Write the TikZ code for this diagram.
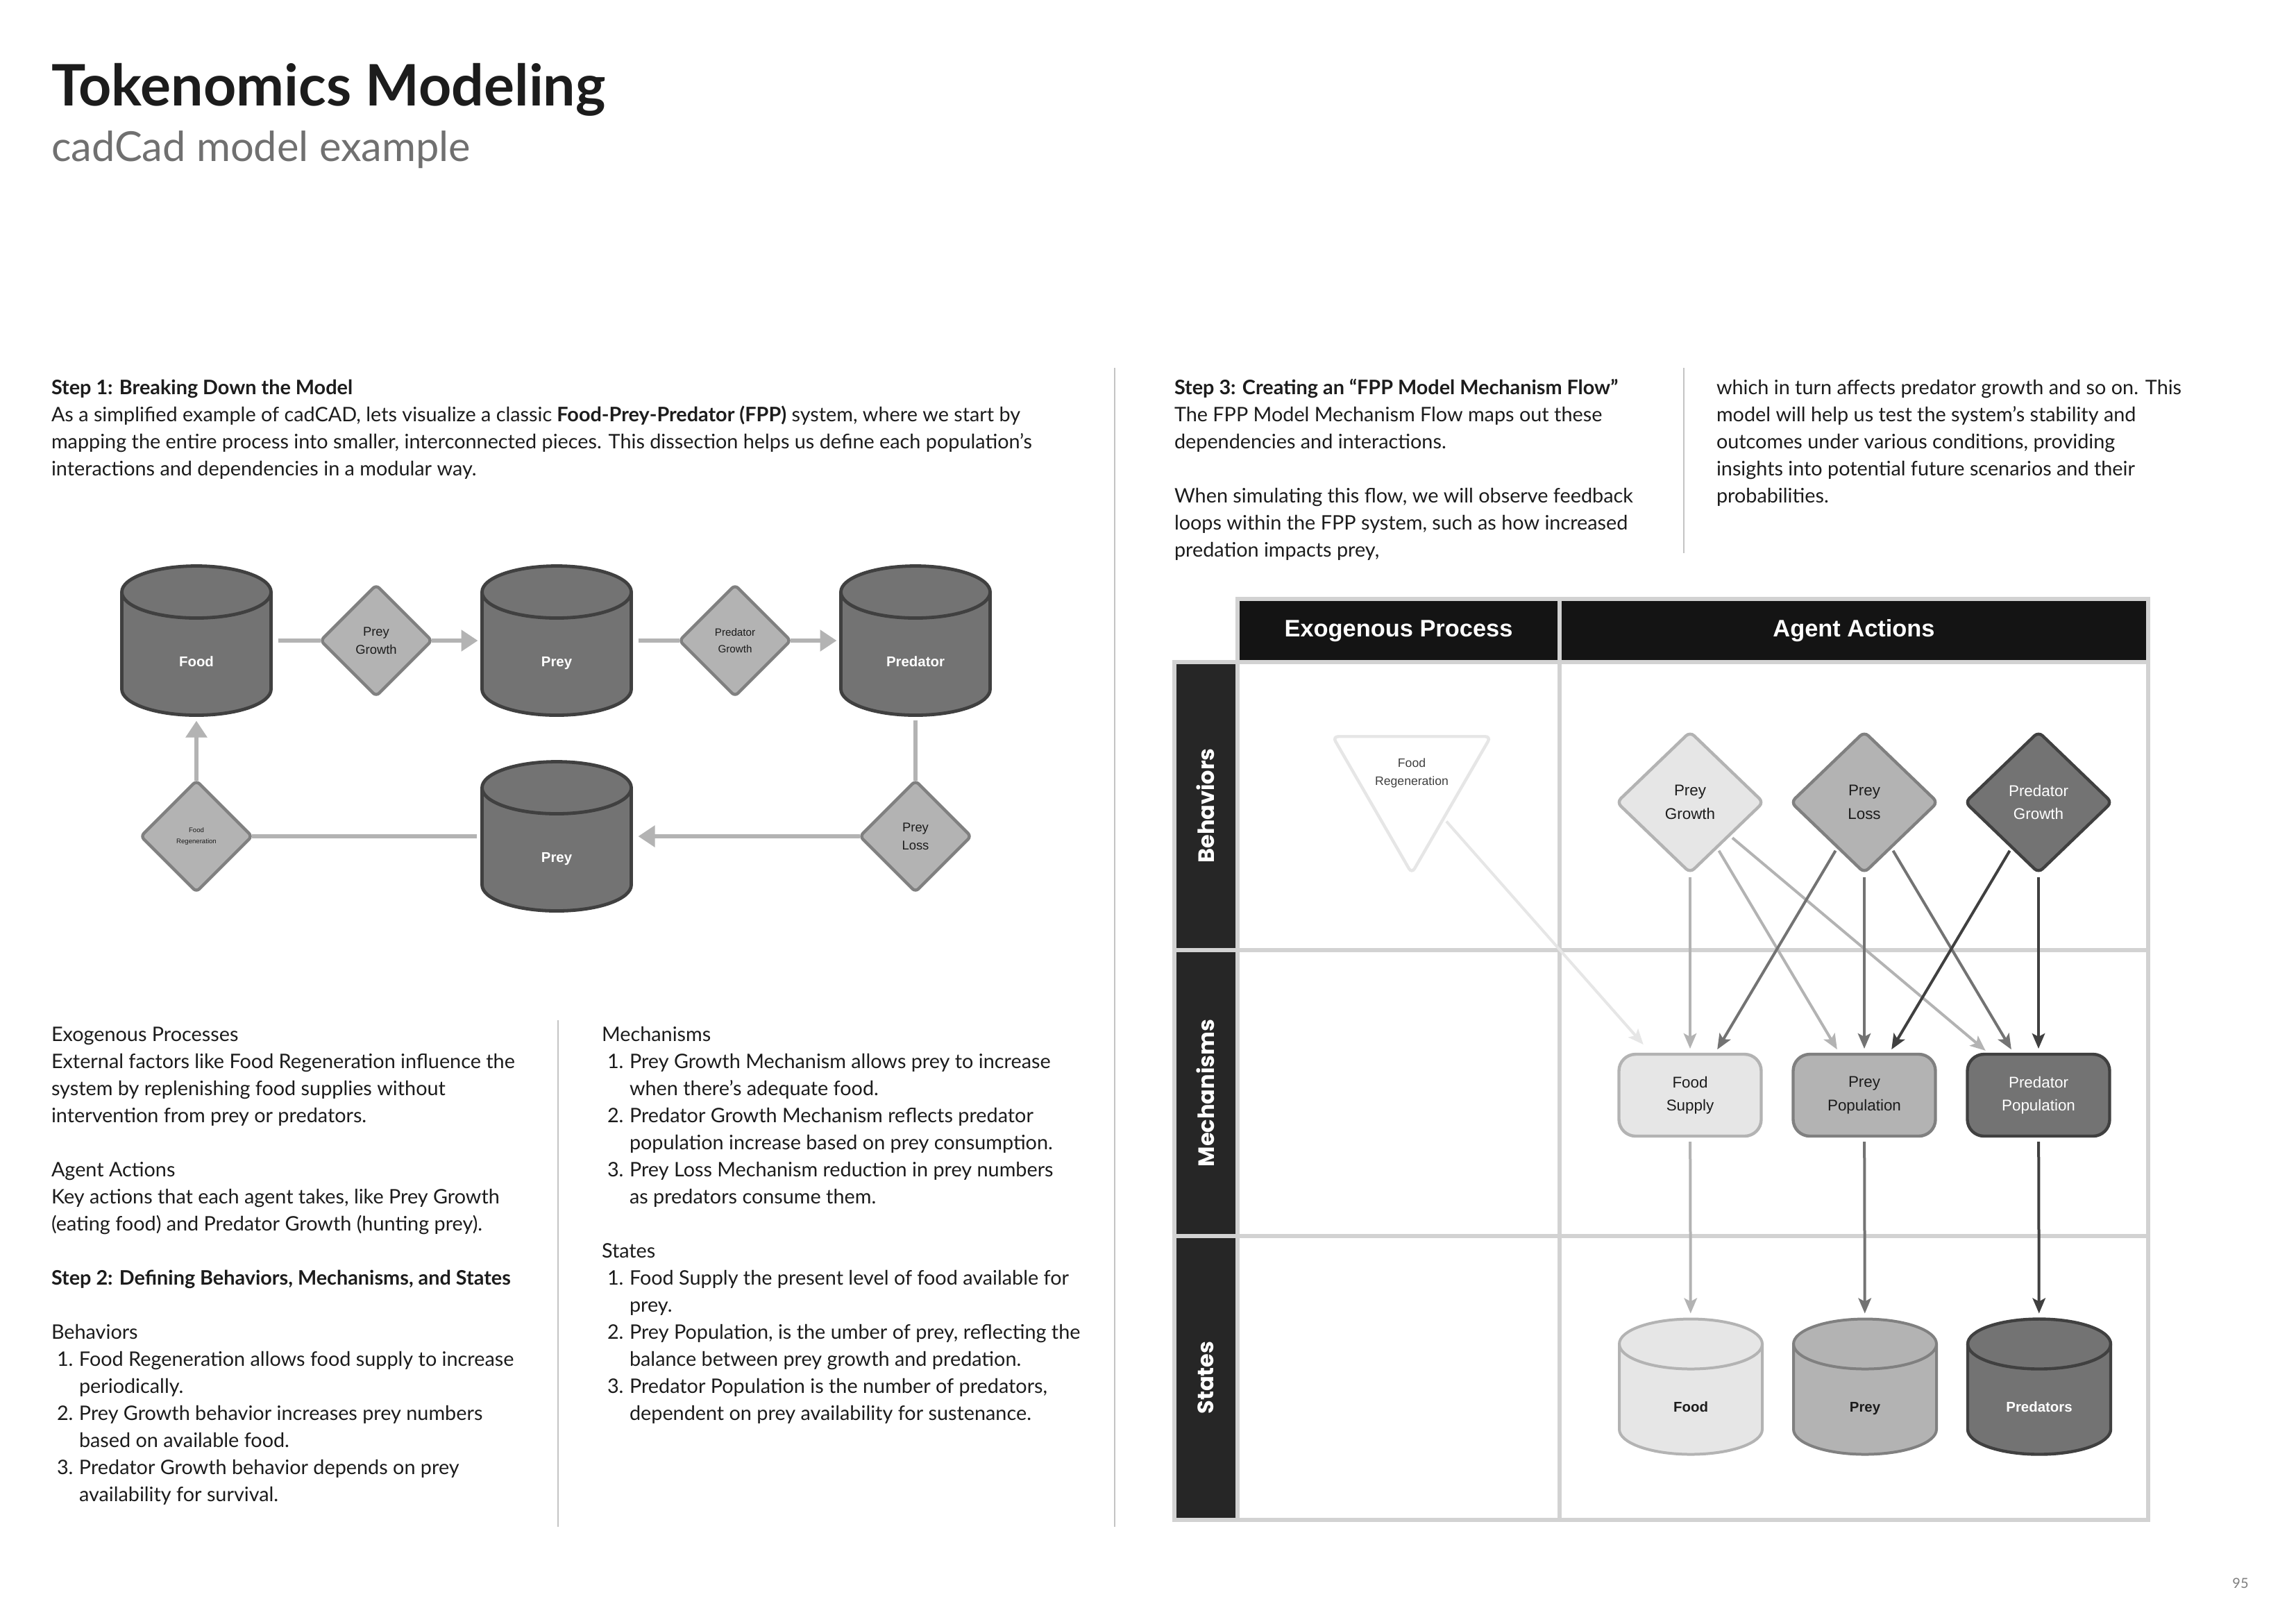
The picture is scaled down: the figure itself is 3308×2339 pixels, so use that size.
\documentclass[tikz,border=0pt]{standalone}
\usepackage{fontspec}
\setmainfont{Lato}
\newfontfamily\dfont{Liberation Sans}
\newfontfamily\rfont{Poppins}
\usetikzlibrary{shapes.geometric,arrows.meta,calc}
\definecolor{cA}{HTML}{E6E6E6}
\definecolor{cB}{HTML}{B3B3B3}
\definecolor{cC}{HTML}{808080}
\definecolor{cD}{HTML}{737373}
\definecolor{cE}{HTML}{404040}
\definecolor{ink}{HTML}{1C1C1C}
\definecolor{gridc}{HTML}{D2D2D2}
\definecolor{hdr}{HTML}{141414}
\definecolor{lbl}{HTML}{262626}
\definecolor{rulec}{HTML}{C4C4C4}
\definecolor{subc}{HTML}{707070}
\newcommand{\bodyfont}{\fontsize{7.2}{9.75}\selectfont}
\newcommand{\itm}[1]{\hspace*{2pt}\makebox[8pt][l]{#1}}
\newcommand{\cnt}{\hspace*{10pt}}
% cylinder drawn on a named rectangle node: #1 style, #2 node, #3 ry (units), #4 rx, #5 ry
\newcommand{\drawcyl}[5]{%
  \draw[#1] ($(#2.north west)+(0,#3)$) -- ($(#2.south west)+(0,-#3)$)
    arc[start angle=180,end angle=360,x radius=#4,y radius=#5]
    -- ($(#2.north east)+(0,#3)$)
    arc[start angle=0,end angle=180,x radius=#4,y radius=#5] -- cycle;
  \draw[#1,fill=none] ($(#2.north west)+(0,#3)$)
    arc[start angle=180,end angle=360,x radius=#4,y radius=#5];}
\begin{document}
\begin{tikzpicture}[x=0.25pt,y=-0.25pt,
  every node/.style={inner sep=0pt,outer sep=0pt},
  body/.style={anchor=base west,align=left,font=\bodyfont,text=ink},
  vrule/.style={draw=rulec,line width=0.5pt},
  gridline/.style={draw=gridc,line width=1.6pt},
  lcylbox/.style={rectangle,minimum width=53.75pt,minimum height=53.75pt},
  lcylstyle/.style={draw=cE,fill=cD,line width=1.2pt,line join=round},
  lcyltext/.style={anchor=base,text=white,font=\dfont\bfseries\fontsize{5.1}{6}\selectfont},
  ldia/.style={diamond,draw=cC,fill=cB,line width=1.1pt,minimum width=40pt,minimum height=40pt,align=center,text=ink,rounded corners=1.5pt},
  lline/.style={draw=cB,line width=1.4pt},
  larr/.style={lline,-{Triangle[length=6pt,width=7.5pt]}},
  rdia/.style={diamond,line width=1.1pt,minimum width=52.75pt,minimum height=50.75pt,align=center,rounded corners=2pt,font=\dfont\fontsize{5.6}{8.4}\selectfont},
  rbox/.style={rectangle,rounded corners=6pt,line width=1.1pt,minimum width=51.25pt,minimum height=29.5pt,align=center,font=\dfont\fontsize{5.6}{8.4}\selectfont},
  rcylbox/.style={rectangle,minimum width=51.5pt,minimum height=48.75pt},
  rcyltext/.style={anchor=base,font=\dfont\bfseries\fontsize{5.1}{6}\selectfont},
  light/.style={fill=cA,draw=cB,text=ink},
  mid/.style={fill=cB,draw=cC,text=ink},
  dark/.style={fill=cD,draw=cE,text=white},
  rarr/.style={line width=1pt,-{Stealth[length=5.5pt,width=4.6pt,inset=1.2pt]},shorten <=1.5pt,shorten >=2pt},
]
\path[use as bounding box,fill=white] (0,0) rectangle (3308,2339);

% ---------- title ----------
\node[anchor=base west,font=\fontsize{20.6}{24}\selectfont\bfseries,text=ink] (title) at (74,152) {Tokenomics Modeling};
\node[anchor=base west,font=\fontsize{14.9}{17}\selectfont,text=subc] (subtitle) at (74,232) {cadCad model example};

% ---------- text blocks (anchored at last baseline) ----------
\node[body] (step1) at (74,685) {\textbf{Step 1: Breaking Down the Model}\\
As a simplified example of cadCAD, lets visualize a classic \textbf{Food-Prey-Predator (FPP)} system, where we start by\\
mapping the entire process into smaller, interconnected pieces. This dissection helps us define each population's\\
interactions and dependencies in a modular way.};

\node[body] (col1) at (74,2163) {Exogenous Processes\\
External factors like Food Regeneration influence the\\
system by replenishing food supplies without\\
intervention from prey or predators.\\[9.75pt]
Agent Actions\\
Key actions that each agent takes, like Prey Growth\\
(eating food) and Predator Growth (hunting prey).\\[9.75pt]
\textbf{Step 2: Defining Behaviors, Mechanisms, and States}\\[9.75pt]
Behaviors\\
\itm{1.}Food Regeneration allows food supply to increase\\
\cnt periodically.\\
\itm{2.}Prey Growth behavior increases prey numbers\\
\cnt based on available food.\\
\itm{3.}Predator Growth behavior depends on prey\\
\cnt availability for survival.};

\node[body] (col2) at (867,2046) {Mechanisms\\
\itm{1.}Prey Growth Mechanism allows prey to increase\\
\cnt when there’s adequate food.\\
\itm{2.}Predator Growth Mechanism reflects predator\\
\cnt population increase based on prey consumption.\\
\itm{3.}Prey Loss Mechanism reduction in prey numbers\\
\cnt as predators consume them.\\[9.75pt]
States\\
\itm{1.}Food Supply the present level of food available for\\
\cnt prey.\\
\itm{2.}Prey Population, is the umber of prey, reflecting the\\
\cnt balance between prey growth and predation.\\
\itm{3.}Predator Population is the number of predators,\\
\cnt dependent on prey availability for sustenance.};

\node[body] (step3) at (1692,802) {\textbf{Step 3: Creating an “FPP Model Mechanism Flow”}\\
The FPP Model Mechanism Flow maps out these\\
dependencies and interactions.\\[9.75pt]
When simulating this flow, we will observe feedback\\
loops within the FPP system, such as how increased\\
predation impacts prey,};

\node[body] (step3b) at (2473,724) {which in turn affects predator growth and so on. This\\
model will help us test the system's stability and\\
outcomes under various conditions, providing\\
insights into potential future scenarios and their\\
probabilities.};

% ---------- rules ----------
\draw[vrule] (804,1470) -- (804,2200);
\draw[vrule] (1606,530) -- (1606,2200);
\draw[vrule] (2426,530) -- (2426,797);

% ---------- left diagram ----------
\node[lcylbox] (food) at (283,923) {};
\node[lcylbox] (prey) at (802,923) {};
\node[lcylbox] (pred) at (1319,923) {};
\node[lcylbox] (prey2) at (802,1205) {};
\drawcyl{lcylstyle}{food}{37.5}{26.875pt}{9.375pt}
\drawcyl{lcylstyle}{prey}{37.5}{26.875pt}{9.375pt}
\drawcyl{lcylstyle}{pred}{37.5}{26.875pt}{9.375pt}
\drawcyl{lcylstyle}{prey2}{37.5}{26.875pt}{9.375pt}
\node[lcyltext] (foodT) at (283,960) {Food};
\node[lcyltext] (preyT) at (802,960) {Prey};
\node[lcyltext] (predT) at (1319,960) {Predator};
\node[lcyltext] (prey2T) at (802,1242) {Prey};
\node[ldia,font=\dfont\fontsize{4.6}{6.4}\selectfont] (pgL) at (542,923) {Prey\\Growth};
\node[ldia,font=\dfont\fontsize{3.8}{5.8}\selectfont] (pdgL) at (1059,923) {Predator\\Growth};
\node[ldia,font=\dfont\fontsize{4.6}{6.6}\selectfont] (plL) at (1319,1205) {Prey\\Loss};
\node[ldia,font=\dfont\fontsize{2.4}{4}\selectfont] (frL) at (283,1205) {Food\\Regeneration};

\draw[lline,shorten <=2.5pt] (food) -- (pgL);
\draw[larr,shorten >=1.5pt] (pgL) -- (prey);
\draw[lline,shorten <=2.5pt] (prey) -- (pdgL);
\draw[larr,shorten >=1.5pt] (pdgL) -- (pred);
\draw[lline,shorten <=1.8pt] (pred) -- (plL);
\draw[larr,shorten >=2.5pt] (plL) -- (prey2);
\draw[lline,shorten <=2pt] (prey2) -- (frL);
\draw[larr,shorten >=2pt] (frL) -- (food);

% ---------- right diagram grid ----------
\draw[gridline,fill=hdr] (1783,863) rectangle (2247,954);
\draw[gridline,fill=hdr] (2247,863) rectangle (3095,954);
\foreach \ya/\yb in {954/1369,1369/1781,1781/2190}{
  \draw[gridline,fill=lbl] (1692,\ya) rectangle (1783,\yb);
  \draw[gridline,fill=white] (1783,\ya) rectangle (2247,\yb);
  \draw[gridline,fill=white] (2247,\ya) rectangle (3095,\yb);
}
\node[font=\dfont\bfseries\fontsize{8.6}{10}\selectfont,text=white] (hexo) at (2015,909) {Exogenous Process};
\node[font=\dfont\bfseries\fontsize{8.6}{10}\selectfont,text=white] (hagent) at (2671,909) {Agent Actions};
\node[rotate=90,font=\rfont\bfseries\fontsize{8}{9}\selectfont,text=white] (rbeh) at (1737,1161) {Behaviors};
\node[rotate=90,font=\rfont\bfseries\fontsize{8}{9}\selectfont,text=white] (rmech) at (1737,1575) {Mechanisms};
\node[rotate=90,font=\rfont\bfseries\fontsize{8}{9}\selectfont,text=white] (rstat) at (1737,1985) {States};

% ---------- right diagram nodes ----------
\node[regular polygon,regular polygon sides=3,shape border rotate=180,minimum size=65.75pt,draw=cA,line width=1.1pt,fill=white,rounded corners=2pt,
  label={[align=center,text=cE,font=\dfont\fontsize{4.4}{6.3}\selectfont,yshift=3.25pt]center:Food\\Regeneration}] (fr) at (2034,1127) {};
\node[rdia,light] (pg) at (2435,1156) {Prey\\Growth};
\node[rdia,mid] (pl) at (2686,1156) {Prey\\Loss};
\node[rdia,dark] (pdg) at (2937,1156) {Predator\\Growth};
\node[rbox,light] (fs) at (2435,1578) {Food\\Supply};
\node[rbox,mid] (pp) at (2686,1578) {Prey\\Population};
\node[rbox,dark] (pdp) at (2937,1578) {Predator\\Population};
\node[rcylbox] (cf) at (2436,1998) {};
\node[rcylbox] (cp) at (2687,1998) {};
\node[rcylbox] (cpd) at (2938,1998) {};
\drawcyl{light,line width=1pt,line join=round}{cf}{36}{25.75pt}{9pt}
\drawcyl{mid,line width=1pt,line join=round}{cp}{36}{25.75pt}{9pt}
\drawcyl{dark,line width=1.1pt,line join=round}{cpd}{36}{25.75pt}{9pt}
\node[rcyltext,text=ink] (cfT) at (2436,2034) {Food};
\node[rcyltext,text=ink] (cpT) at (2687,2034) {Prey};
\node[rcyltext,text=white] (cpdT) at (2938,2034) {Predators};
\coordinate (frEnd) at ($(fs.north)+(-62,-8)$);

% ---------- right diagram arrows ----------
\draw[rarr,draw=cA,fill=cA] (fr) -- (frEnd);
\draw[rarr,draw=cB,fill=cB] (pg) -- (fs);
\draw[rarr,draw=cB,fill=cB] (pg) -- (pp);
\draw[rarr,draw=cB,fill=cB] (pg) -- (pdp);
\draw[rarr,draw=cD,fill=cD] (pl) -- (fs);
\draw[rarr,draw=cD,fill=cD] (pl) -- (pp);
\draw[rarr,draw=cD,fill=cD] (pl) -- (pdp);
\draw[rarr,draw=cE,fill=cE] (pdg) -- (pp);
\draw[rarr,draw=cE,fill=cE] (pdg) -- (pdp);
\draw[rarr,draw=cB,fill=cB,shorten <=2pt,shorten >=2pt] (fs) -- (cf);
\draw[rarr,draw=cD,fill=cD,shorten <=2pt,shorten >=2pt] (pp) -- (cp);
\draw[rarr,draw=cE,fill=cE,shorten <=2pt,shorten >=2pt] (pdp) -- (cpd);

\node[font=\fontsize{5}{6}\selectfont,text=cC] (pnum) at (3228,2281) {95};
\end{tikzpicture}
\end{document}
